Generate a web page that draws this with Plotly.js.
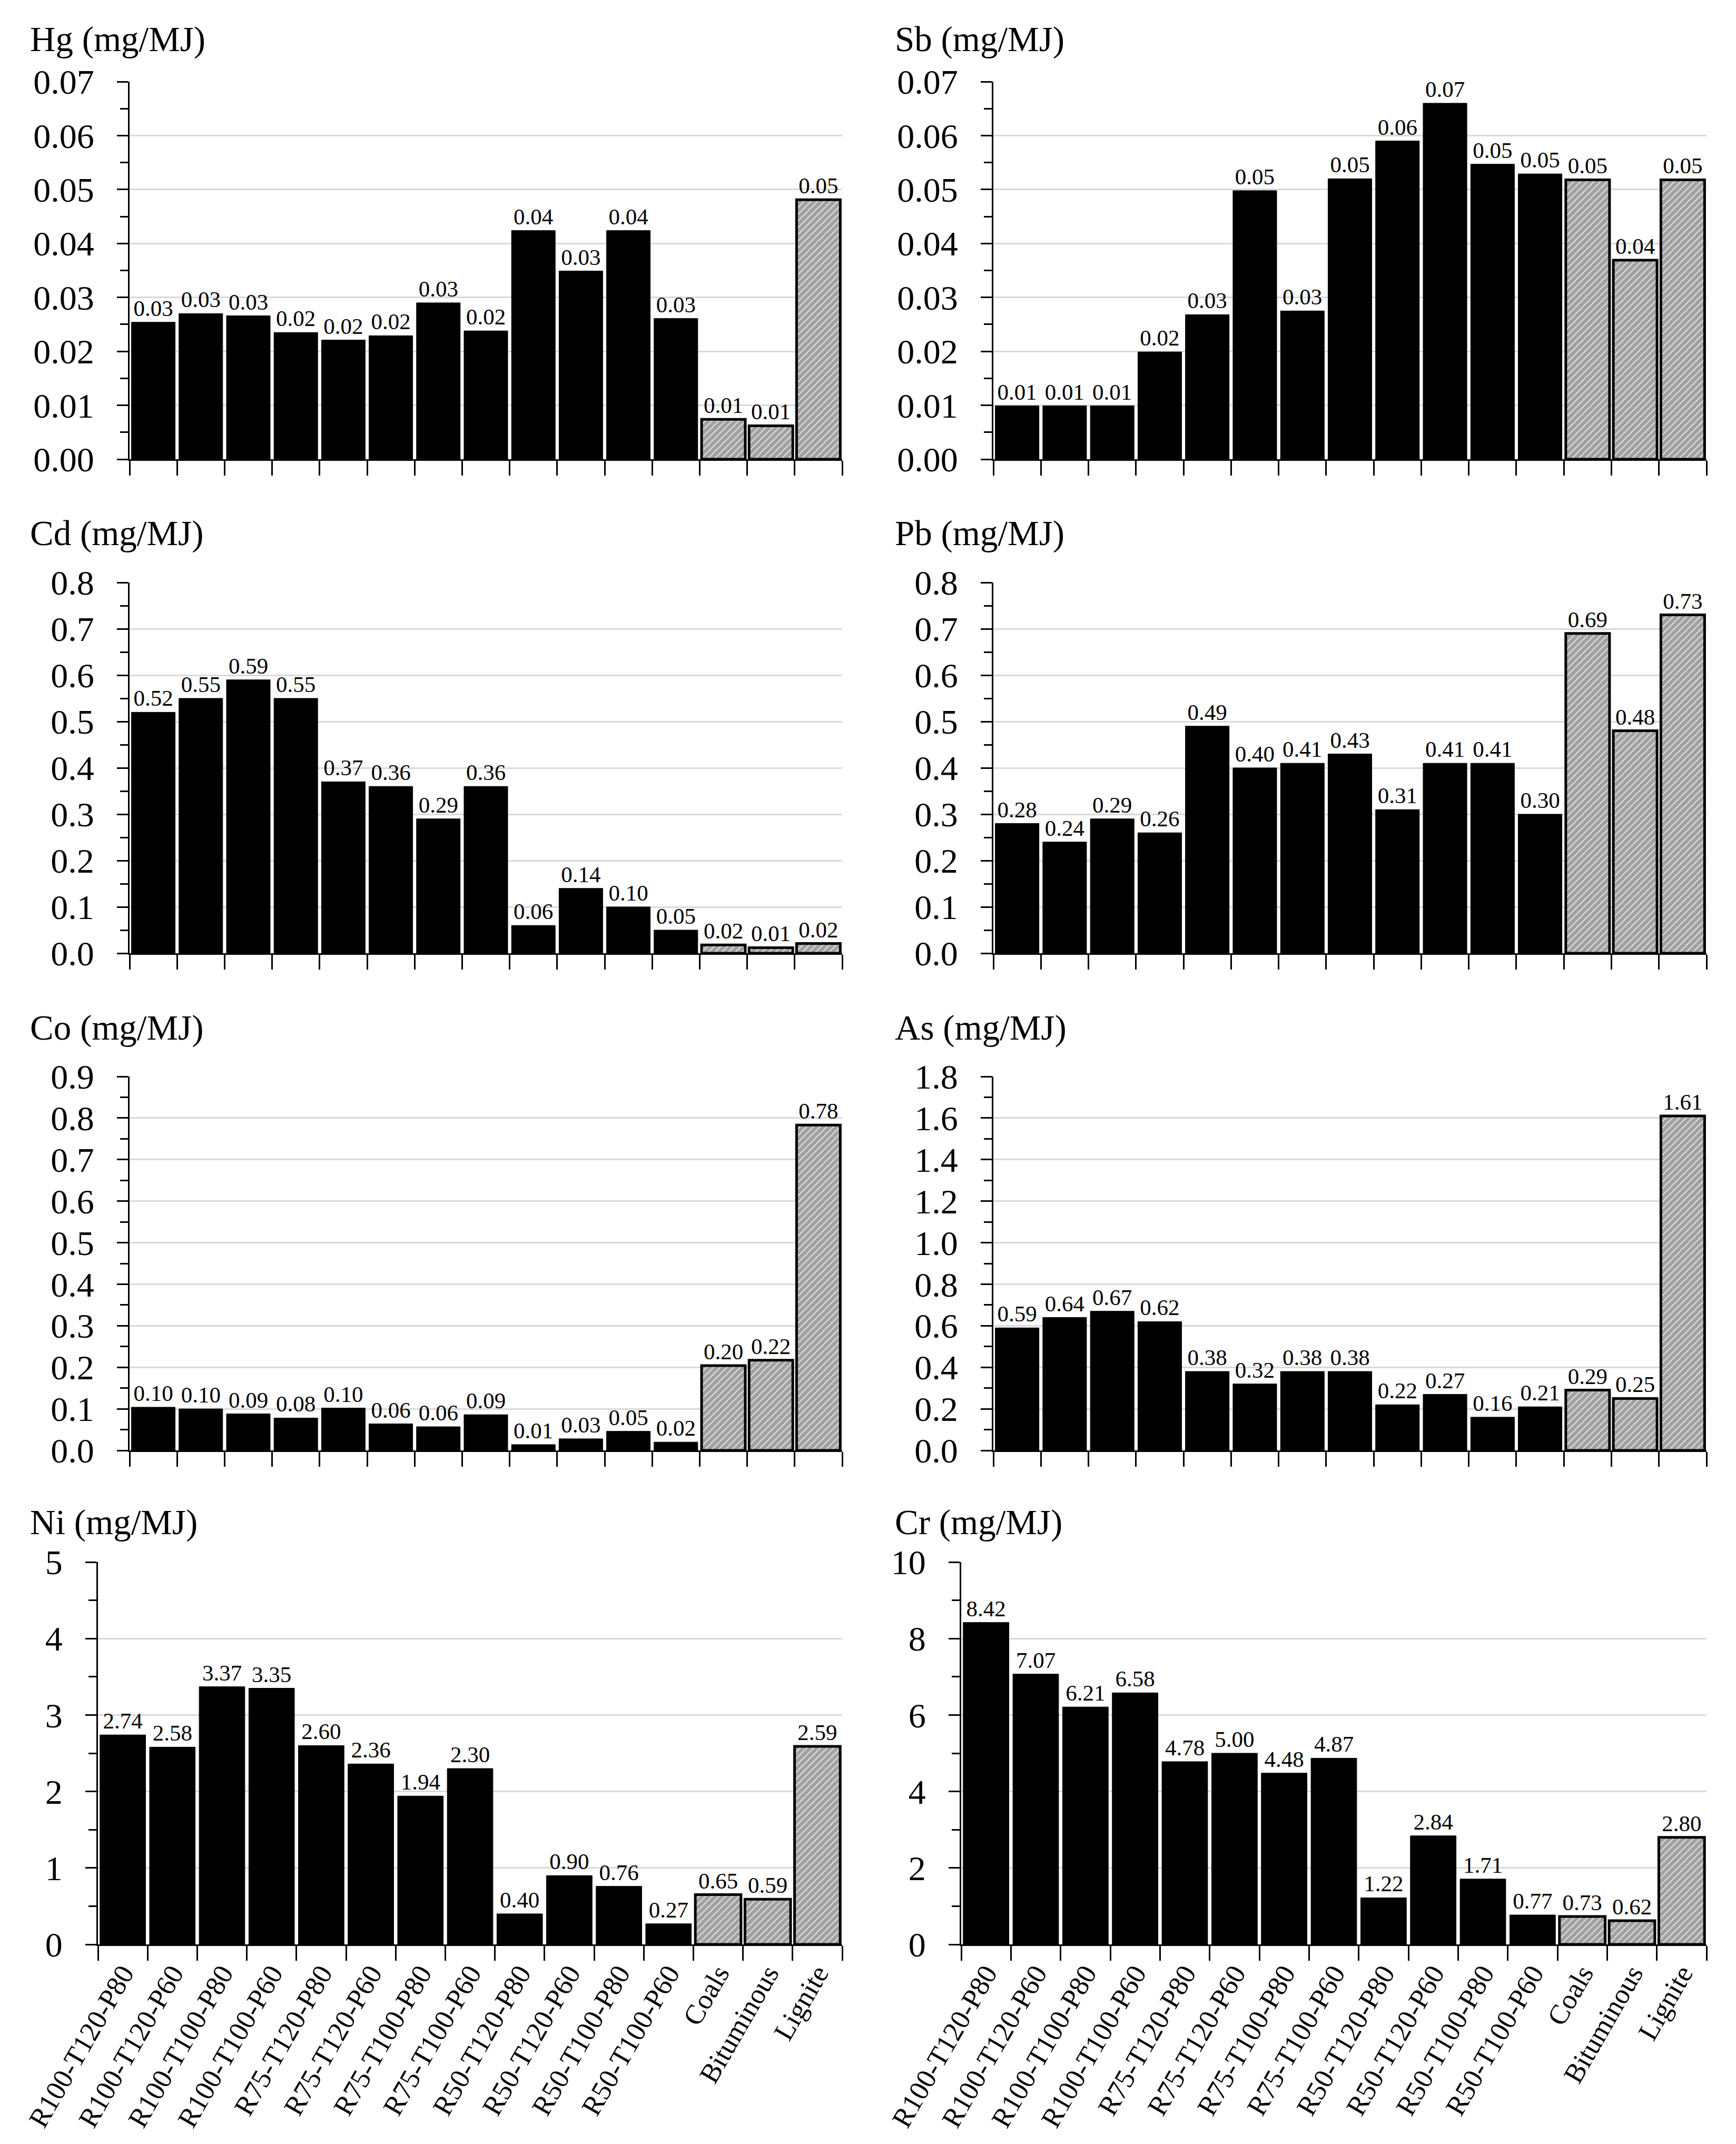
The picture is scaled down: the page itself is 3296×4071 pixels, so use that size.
<!DOCTYPE html>
<html>
<head>
<meta charset="utf-8">
<script src="https://cdn.plot.ly/plotly-3.0.1.min.js"></script>
<style>html,body{margin:0;padding:0;background:#fff;}#chart{width:3296px;height:4071px;}</style>
</head>
<body>
<div id="chart"></div>
<script>
// ---------- DATA ----------
const categories = ["R100-T120-P80","R100-T120-P60","R100-T100-P80","R100-T100-P60",
  "R75-T120-P80","R75-T120-P60","R75-T100-P80","R75-T100-P60",
  "R50-T120-P80","R50-T120-P60","R50-T100-P80","R50-T100-P60",
  "Coals","Bituminous","Lignite"];
const coalCategories = ["Coals","Bituminous","Lignite"];

const hg = [0.0254,0.0270,0.0266,0.0235,0.0221,0.0229,0.0290,0.0238,0.0424,0.0349,0.0424,0.0261,0.0074,0.0062,0.0481];
const sb = [0.0099,0.0099,0.0099,0.0199,0.0268,0.0498,0.0275,0.0520,0.0590,0.0660,0.0547,0.0529,0.0518,0.0369,0.0518];
const cd = [0.52,0.55,0.59,0.55,0.37,0.36,0.29,0.36,0.06,0.14,0.10,0.05,0.018,0.012,0.021];
const pb = [0.28,0.24,0.29,0.26,0.49,0.40,0.41,0.43,0.31,0.41,0.41,0.30,0.69,0.48,0.73];
const co = [0.104,0.100,0.088,0.078,0.102,0.064,0.057,0.086,0.014,0.028,0.046,0.020,0.204,0.217,0.783];
const as = [0.59,0.64,0.67,0.62,0.38,0.32,0.38,0.38,0.22,0.27,0.16,0.21,0.29,0.25,1.61];
const ni = [2.74,2.58,3.37,3.35,2.60,2.36,1.94,2.30,0.40,0.90,0.76,0.27,0.65,0.59,2.59];
const cr = [8.42,7.07,6.21,6.58,4.78,5.00,4.48,4.87,1.22,2.84,1.71,0.77,0.73,0.62,2.80];

const panelTitles = ["Hg (mg/MJ)","Sb (mg/MJ)","Cd (mg/MJ)","Pb (mg/MJ)","Co (mg/MJ)","As (mg/MJ)","Ni (mg/MJ)","Cr (mg/MJ)"];
const panelValues = [hg, sb, cd, pb, co, as, ni, cr];
const yMax = [0.07, 0.07, 0.8, 0.8, 0.9, 1.8, 5, 10];
const yStep = [0.01, 0.01, 0.1, 0.1, 0.1, 0.2, 1, 2];
const yFormat = [".2f", ".2f", ".1f", ".1f", ".1f", ".1f", "d", "d"];

// ---------- LAYOUT ----------
const W = 3296, H = 4071;
const FONT = "Liberation Serif, Times New Roman, serif";
// pixel boxes [x0, x1, y0(top), y1(bottom)]
const boxes = [
  [246, 1599, 155, 872], [1886, 3240, 155, 872],
  [246, 1599, 1106, 1810], [1886, 3240, 1106, 1810],
  [246, 1599, 2044, 2754], [1886, 3240, 2044, 2754],
  [186, 1599, 2966, 3692], [1825, 3240, 2966, 3692]
];
const titlePos = [[55, 74], [1697, 74], [55, 1013], [1697, 1013], [55, 1951], [1697, 1951], [55, 2890], [1697, 2890]];

const traces = [];
const layout = {
  width: W, height: H,
  margin: {l: 0, r: 0, t: 0, b: 0},
  paper_bgcolor: "#ffffff", plot_bgcolor: "#ffffff",
  showlegend: false,
  bargap: 0.08,
  font: {family: FONT, color: "#000"},
  annotations: []
};

panelValues.forEach((vals, i) => {
  const n = i + 1;
  const xa = n === 1 ? "x" : "x" + n;
  const ya = n === 1 ? "y" : "y" + n;
  const isCoal = categories.map(c => coalCategories.includes(c));
  traces.push({
    type: "bar",
    x: categories,
    y: vals,
    xaxis: xa, yaxis: ya,
    marker: {
      color: isCoal.map(c => c ? "#ffffff" : "#000000"),
      line: {color: "#000000", width: isCoal.map(c => c ? 5 : 1)},
      pattern: {
        shape: isCoal.map(c => c ? "/" : ""),
        fgcolor: "#000000",
        bgcolor: "#ffffff",
        size: 9,
        solidity: 0.85,
        fillmode: "overlay"
      }
    },
    texttemplate: "%{y:.2f}",
    textposition: "outside",
    constraintext: "none",
    cliponaxis: false,
    textfont: {family: FONT, size: 43, color: "#000"},
    hoverinfo: "skip"
  });
  const b = boxes[i];
  const bottomRow = i >= 6;
  layout["xaxis" + (n === 1 ? "" : n)] = {
    domain: [b[0] / W, b[1] / W],
    anchor: ya,
    type: "category",
    showline: true, linecolor: "#000", linewidth: 3,
    ticks: "outside", tickson: "boundaries", ticklen: 28, tickwidth: 3, tickcolor: "#000",
    showgrid: false, zeroline: false,
    showticklabels: bottomRow,
    tickangle: -60,
    tickfont: {family: FONT, size: 53, color: "#000"},
    fixedrange: true
  };
  layout["yaxis" + (n === 1 ? "" : n)] = {
    domain: [1 - b[3] / H, 1 - b[2] / H],
    anchor: xa,
    range: [0, yMax[i]],
    tick0: 0, dtick: yStep[i],
    tickformat: yFormat[i],
    showline: true, linecolor: "#000", linewidth: 3,
    ticks: "outside", ticklen: 21, tickwidth: 3, tickcolor: "#000",
    minor: {ticks: "outside", dtick: yStep[i] / 2, tick0: 0, ticklen: 15, tickwidth: 3, tickcolor: "#000", showgrid: false},
    showgrid: true, gridcolor: "#d9d9d9", gridwidth: 3,
    zeroline: false,
    ticklabelstandoff: 30,
    tickfont: {family: FONT, size: 66, color: "#000"},
    fixedrange: true
  };
  layout.annotations.push({
    text: panelTitles[i],
    xref: "paper", yref: "paper",
    x: titlePos[i][0] / W, y: 1 - titlePos[i][1] / H,
    xanchor: "left", yanchor: "middle",
    showarrow: false,
    font: {family: FONT, size: 67, color: "#000"}
  });
});

Plotly.newPlot("chart", traces, layout, {staticPlot: true, displayModeBar: false});
</script>
</body>
</html>
